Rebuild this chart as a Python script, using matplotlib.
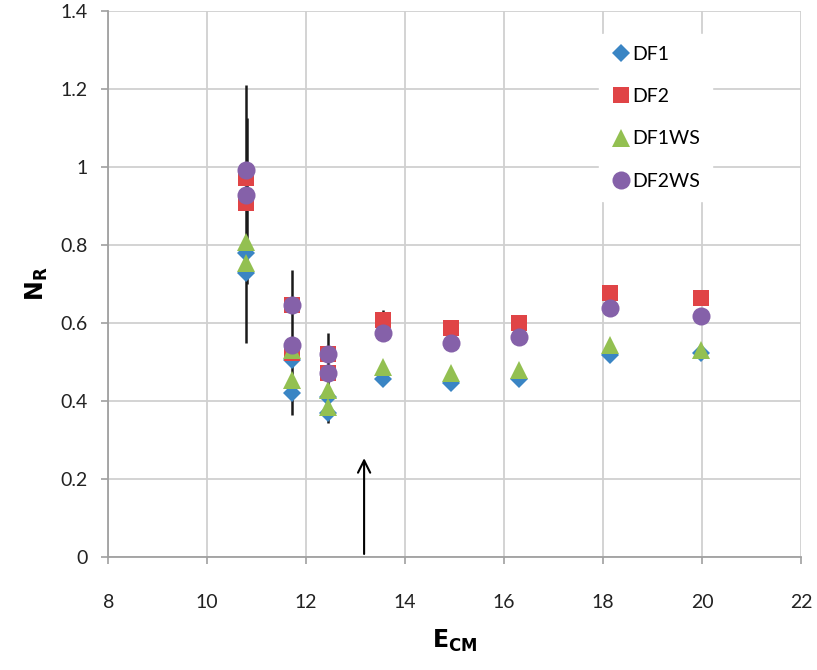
# Gráfico N_R frente a E_CM con cuatro series y barras de error
import numpy as np
import matplotlib.pyplot as plt

# === Datos ===
e_cm = [10.78, 10.78, 11.71, 11.71, 12.45, 12.45, 13.55, 14.92, 16.30, 18.13, 19.98]

df1 = [0.778, 0.727, 0.505, 0.419, 0.410, 0.368, 0.457, 0.446, 0.457, 0.517, 0.522]
df2 = [0.970, 0.906, 0.645, 0.522, 0.521, 0.470, 0.607, 0.586, 0.600, 0.675, 0.663]
df1ws = [0.808, 0.752, 0.530, 0.453, 0.427, 0.385, 0.487, 0.470, 0.479, 0.543, 0.530]
df2ws = [0.991, 0.927, 0.645, 0.543, 0.521, 0.470, 0.573, 0.549, 0.563, 0.637, 0.617]

# barras de error (posición, extremo inferior, extremo superior)
err_x = [10.78, 10.80, 11.71, 12.45, 13.55]
err_lo = [0.549, 0.700, 0.363, 0.342, 0.600]
err_hi = [1.210, 1.124, 0.735, 0.573, 0.633]

# flecha que marca el umbral
arrow_x = 13.17
arrow_y = 0.26

series = [
    ('DF1', df1, 'D', '#3a85c4', 9),
    ('DF2', df2, 's', '#e04446', 12),
    ('DF1WS', df1ws, '^', '#93c051', 13),
    ('DF2WS', df2ws, 'o', '#8561a9', 13),
]

fig = plt.figure(figsize=(8.17, 6.70), dpi=100)
ax = fig.add_axes([0.1325, 0.169, 0.848, 0.815])

# barras de error detrás de los marcadores
ax.vlines(err_x, err_lo, err_hi, colors='#1a1a1a', linewidth=1.8, zorder=2)

for name, vals, mk, col, ms in series:
    ax.plot(e_cm, vals, linestyle='none', marker=mk, color=col,
            markersize=ms, markeredgewidth=0, label=name, zorder=3)

ax.annotate('', xy=(arrow_x, arrow_y), xytext=(arrow_x, 0),
            arrowprops=dict(arrowstyle='->', color='black', lw=1.5,
                            mutation_scale=22), zorder=4)

ax.set_xlim(8, 22)
ax.set_ylim(0, 1.4)
ax.set_xticks(np.arange(8, 23, 2))
ax.set_yticks(np.arange(0, 1.41, 0.2))
ax.set_yticklabels(['0', '0.2', '0.4', '0.6', '0.8', '1', '1.2', '1.4'])

ax.grid(True, color='#d0d0d0', linewidth=1.3)
ax.set_axisbelow(True)
for s in ['top', 'right']:
    ax.spines[s].set_visible(False)
for s in ['left', 'bottom']:
    ax.spines[s].set_color('#a0a0a0')
    ax.spines[s].set_linewidth(1.3)
ax.tick_params(axis='both', colors='#a0a0a0', length=5, width=1.2,
               labelcolor='#222222', labelsize=14)
ax.tick_params(axis='x', pad=22)
ax.tick_params(axis='y', pad=10)
for lbl in ax.get_xticklabels() + ax.get_yticklabels():
    lbl.set_family('Lato')

ax.set_xlabel(r'$\mathbf{E_{CM}}$', fontsize=17, labelpad=12)
ax.set_ylabel(r'$\mathbf{N_R}$', fontsize=17, labelpad=7)

leg = ax.legend(loc='upper left', bbox_to_anchor=(0.695, 0.975), frameon=True,
                framealpha=1, edgecolor='white',
                prop={'family': 'Lato', 'size': 14},
                handletextpad=0.1, handlelength=1.0, labelspacing=1.3,
                borderpad=0.6)

plt.savefig('out.png', dpi=100)
